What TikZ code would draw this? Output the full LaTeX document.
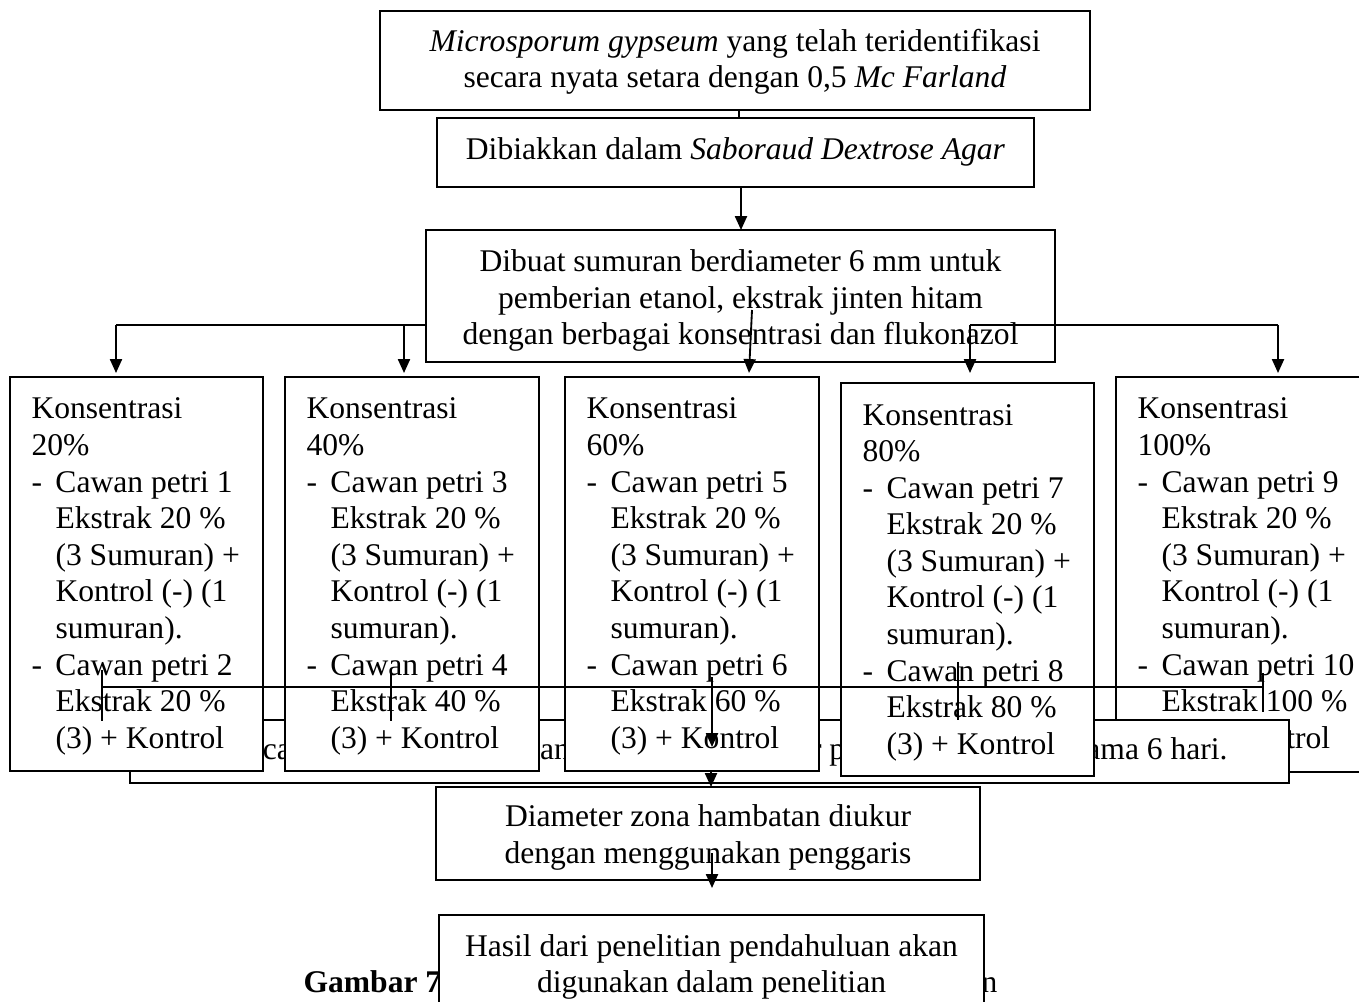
\documentclass[tikz,border=0pt]{standalone}
\usepackage{fontspec}
\setmainfont{Liberation Serif}
\usetikzlibrary{arrows.meta}
\newcommand{\dashitem}[1]{\makebox[9.12pt][l]{-}#1}
\newcommand{\contline}[1]{\hspace*{9.12pt}#1}
\newcommand{\kbox}[1]{\parbox[t]{110pt}{\raggedright #1}}
\tikzset{
  bx/.style={draw, fill=white, line width=0.7pt, inner sep=0pt, outer sep=0pt},
  ln/.style={line width=0.7pt},
  arr/.style={line width=0.7pt, -{Triangle[length=5.3pt,width=4.6pt]}},
  ctext/.style={align=center, inner sep=0pt, font=\fontsize{12}{13.9}\selectfont},
  ltext/.style={anchor=base west, inner sep=0pt, font=\fontsize{12}{13.9}\selectfont},
}
\begin{document}
\begin{tikzpicture}[x=0.38pt,y=-0.38pt]
\useasboundingbox (0,0) rectangle (1371,1002);
\clip (0,0) rectangle (1371,1002);

% --- top boxes
\node[bx, minimum width=269.8pt, minimum height=37.62pt] (b1) at (735,60.5) {};
\node[ctext] (t1) at (735,62) {\textit{Microsporum gypseum} yang telah teridentifikasi\\secara nyata setara dengan 0,5 \textit{Mc Farland}};
\coordinate (k1) at (739,110);
\coordinate (k2) at (739,118);
\draw[ln] (k1) -- (k2);

\node[bx, minimum width=226.86pt, minimum height=26.22pt] (b2) at (735.5,152.5) {};
\node[ctext] (t2) at (735.5,152) {Dibiakkan dalam \textit{Saboraud Dextrose Agar}};
\coordinate (a23s) at (741,187);
\coordinate (a23e) at (741,230);
\draw[arr] (a23s) -- (a23e);

% --- branch line (left part hidden under box 3)
\coordinate (brL) at (116,325);
\coordinate (brR) at (1278,325);
\coordinate (brB) at (404,325);
\coordinate (tipA) at (116,373);
\coordinate (tipB) at (404,373);
\draw[ln] (brL) -- (brR);
\draw[arr] (brL) -- (tipA);
\draw[arr] (brB) -- (tipB);

\node[bx, minimum width=239.02pt, minimum height=50.16pt] (b3) at (740.5,296) {};
\node[ctext] (t3) at (740.5,300.5) {Dibuat sumuran berdiameter 6 mm untuk\\pemberian etanol, ekstrak jinten hitam\\dengan berbagai konsentrasi dan flukonazol};

\coordinate (brD) at (970,325);
\coordinate (tipD) at (970,373);
\coordinate (tipE) at (1278,373);
\coordinate (cS) at (752,310);
\coordinate (tipC) at (749,373);
\draw[ln] (brD) -- (brR);
\draw[arr] (brD) -- (tipD);
\draw[arr] (brR) -- (tipE);
\draw[arr] (cS) -- (tipC);

% --- box E (right side cut off)
\node[draw=none, fill=white, inner sep=0pt, outer sep=0pt, minimum width=92.34pt, minimum height=150.1pt] (bE) at (1237.5,574.5) {};
\draw[ln] (bE.north east) -- (bE.north west) -- (bE.south west) -- (bE.south east);
\node[ltext] (tE) at (1137,419) {\kbox{Konsentrasi\\100\%\\\dashitem{Cawan petri 9}\\\contline{Ekstrak 20 \%}\\\contline{(3 Sumuran) +}\\\contline{Kontrol (-) (1}\\\contline{sumuran).}\\\dashitem{Cawan petri 10}\\\contline{Ekstrak 100 \%}\\\contline{(3) + Kontrol}}};

% --- incubation box
\node[bx, minimum width=440.42pt, minimum height=23.94pt] (bW) at (709.5,751.5) {};
\node[ltext, anchor=base east] (tW) at (1228,759) {Semua cawan petri dimasukkan ke dalam inkubator pada suhu kamar selama 6 hari.};

% --- concentration boxes
\node[bx, minimum width=96.14pt, minimum height=149.72pt] (bA) at (136.5,574) {};
\node[ltext] (tA) at (31,419) {\kbox{Konsentrasi\\20\%\\\dashitem{Cawan petri 1}\\\contline{Ekstrak 20 \%}\\\contline{(3 Sumuran) +}\\\contline{Kontrol (-) (1}\\\contline{sumuran).}\\\dashitem{Cawan petri 2}\\\contline{Ekstrak 20 \%}\\\contline{(3) + Kontrol}}};

\node[bx, minimum width=96.52pt, minimum height=149.72pt] (bB) at (412,574) {};
\node[ltext] (tB) at (306,419) {\kbox{Konsentrasi\\40\%\\\dashitem{Cawan petri 3}\\\contline{Ekstrak 20 \%}\\\contline{(3 Sumuran) +}\\\contline{Kontrol (-) (1}\\\contline{sumuran).}\\\dashitem{Cawan petri 4}\\\contline{Ekstrak 40 \%}\\\contline{(3) + Kontrol}}};

\node[bx, minimum width=96.52pt, minimum height=149.72pt] (bC) at (692,574) {};
\node[ltext] (tC) at (586,419) {\kbox{Konsentrasi\\60\%\\\dashitem{Cawan petri 5}\\\contline{Ekstrak 20 \%}\\\contline{(3 Sumuran) +}\\\contline{Kontrol (-) (1}\\\contline{sumuran).}\\\dashitem{Cawan petri 6}\\\contline{Ekstrak 60 \%}\\\contline{(3) + Kontrol}}};

\node[bx, minimum width=96.14pt, minimum height=149.34pt] (bD) at (967.5,579.5) {};
\node[ltext] (tD) at (862,425) {\kbox{Konsentrasi\\80\%\\\dashitem{Cawan petri 7}\\\contline{Ekstrak 20 \%}\\\contline{(3 Sumuran) +}\\\contline{Kontrol (-) (1}\\\contline{sumuran).}\\\dashitem{Cawan petri 8}\\\contline{Ekstrak 80 \%}\\\contline{(3) + Kontrol}}};

% --- collector lines
\coordinate (hL) at (102,687);
\coordinate (hR) at (1263,687);
\draw[ln] (hL) -- (hR);
\coordinate (v1a) at (102,670);  \coordinate (v1b) at (102,721);
\coordinate (v2a) at (391,670);  \coordinate (v2b) at (391,721);
\coordinate (v4a) at (958,662);  \coordinate (v4b) at (958,720);
\coordinate (v5a) at (1263,673); \coordinate (v5b) at (1263,712);
\draw[ln] (v1a) -- (v1b);
\draw[ln] (v2a) -- (v2b);
\draw[ln] (v4a) -- (v4b);
\draw[ln] (v5a) -- (v5b);
\coordinate (v3a) at (712,677); \coordinate (v3b) at (712,747);
\draw[arr] (v3a) -- (v3b);

% --- measuring box
\coordinate (m1) at (711,771);
\node[bx, minimum width=206.72pt, minimum height=35.34pt] (bM) at (708,833.5) {};
\draw[arr] (m1) -- (bM.north -| m1);
\node[ctext] (tM) at (708,837.5) {Diameter zona hambatan diukur\\dengan menggunakan penggaris};
\coordinate (m2) at (712,853);
\coordinate (m3) at (712,888);
\draw[arr] (m2) -- (m3);

% --- caption and result box
\node[ltext] (cap) at (303,992) {\makebox[263.7pt]{\textbf{Gambar 7.}\hfill Alur Penelitian Pendahuluan}};
\node[bx, minimum width=207.1pt, minimum height=41.8pt] (bH) at (711.5,970) {};
\node[ctext] (tH) at (711.5,967) {Hasil dari penelitian pendahuluan akan\\digunakan dalam penelitian};
\end{tikzpicture}
\end{document}
